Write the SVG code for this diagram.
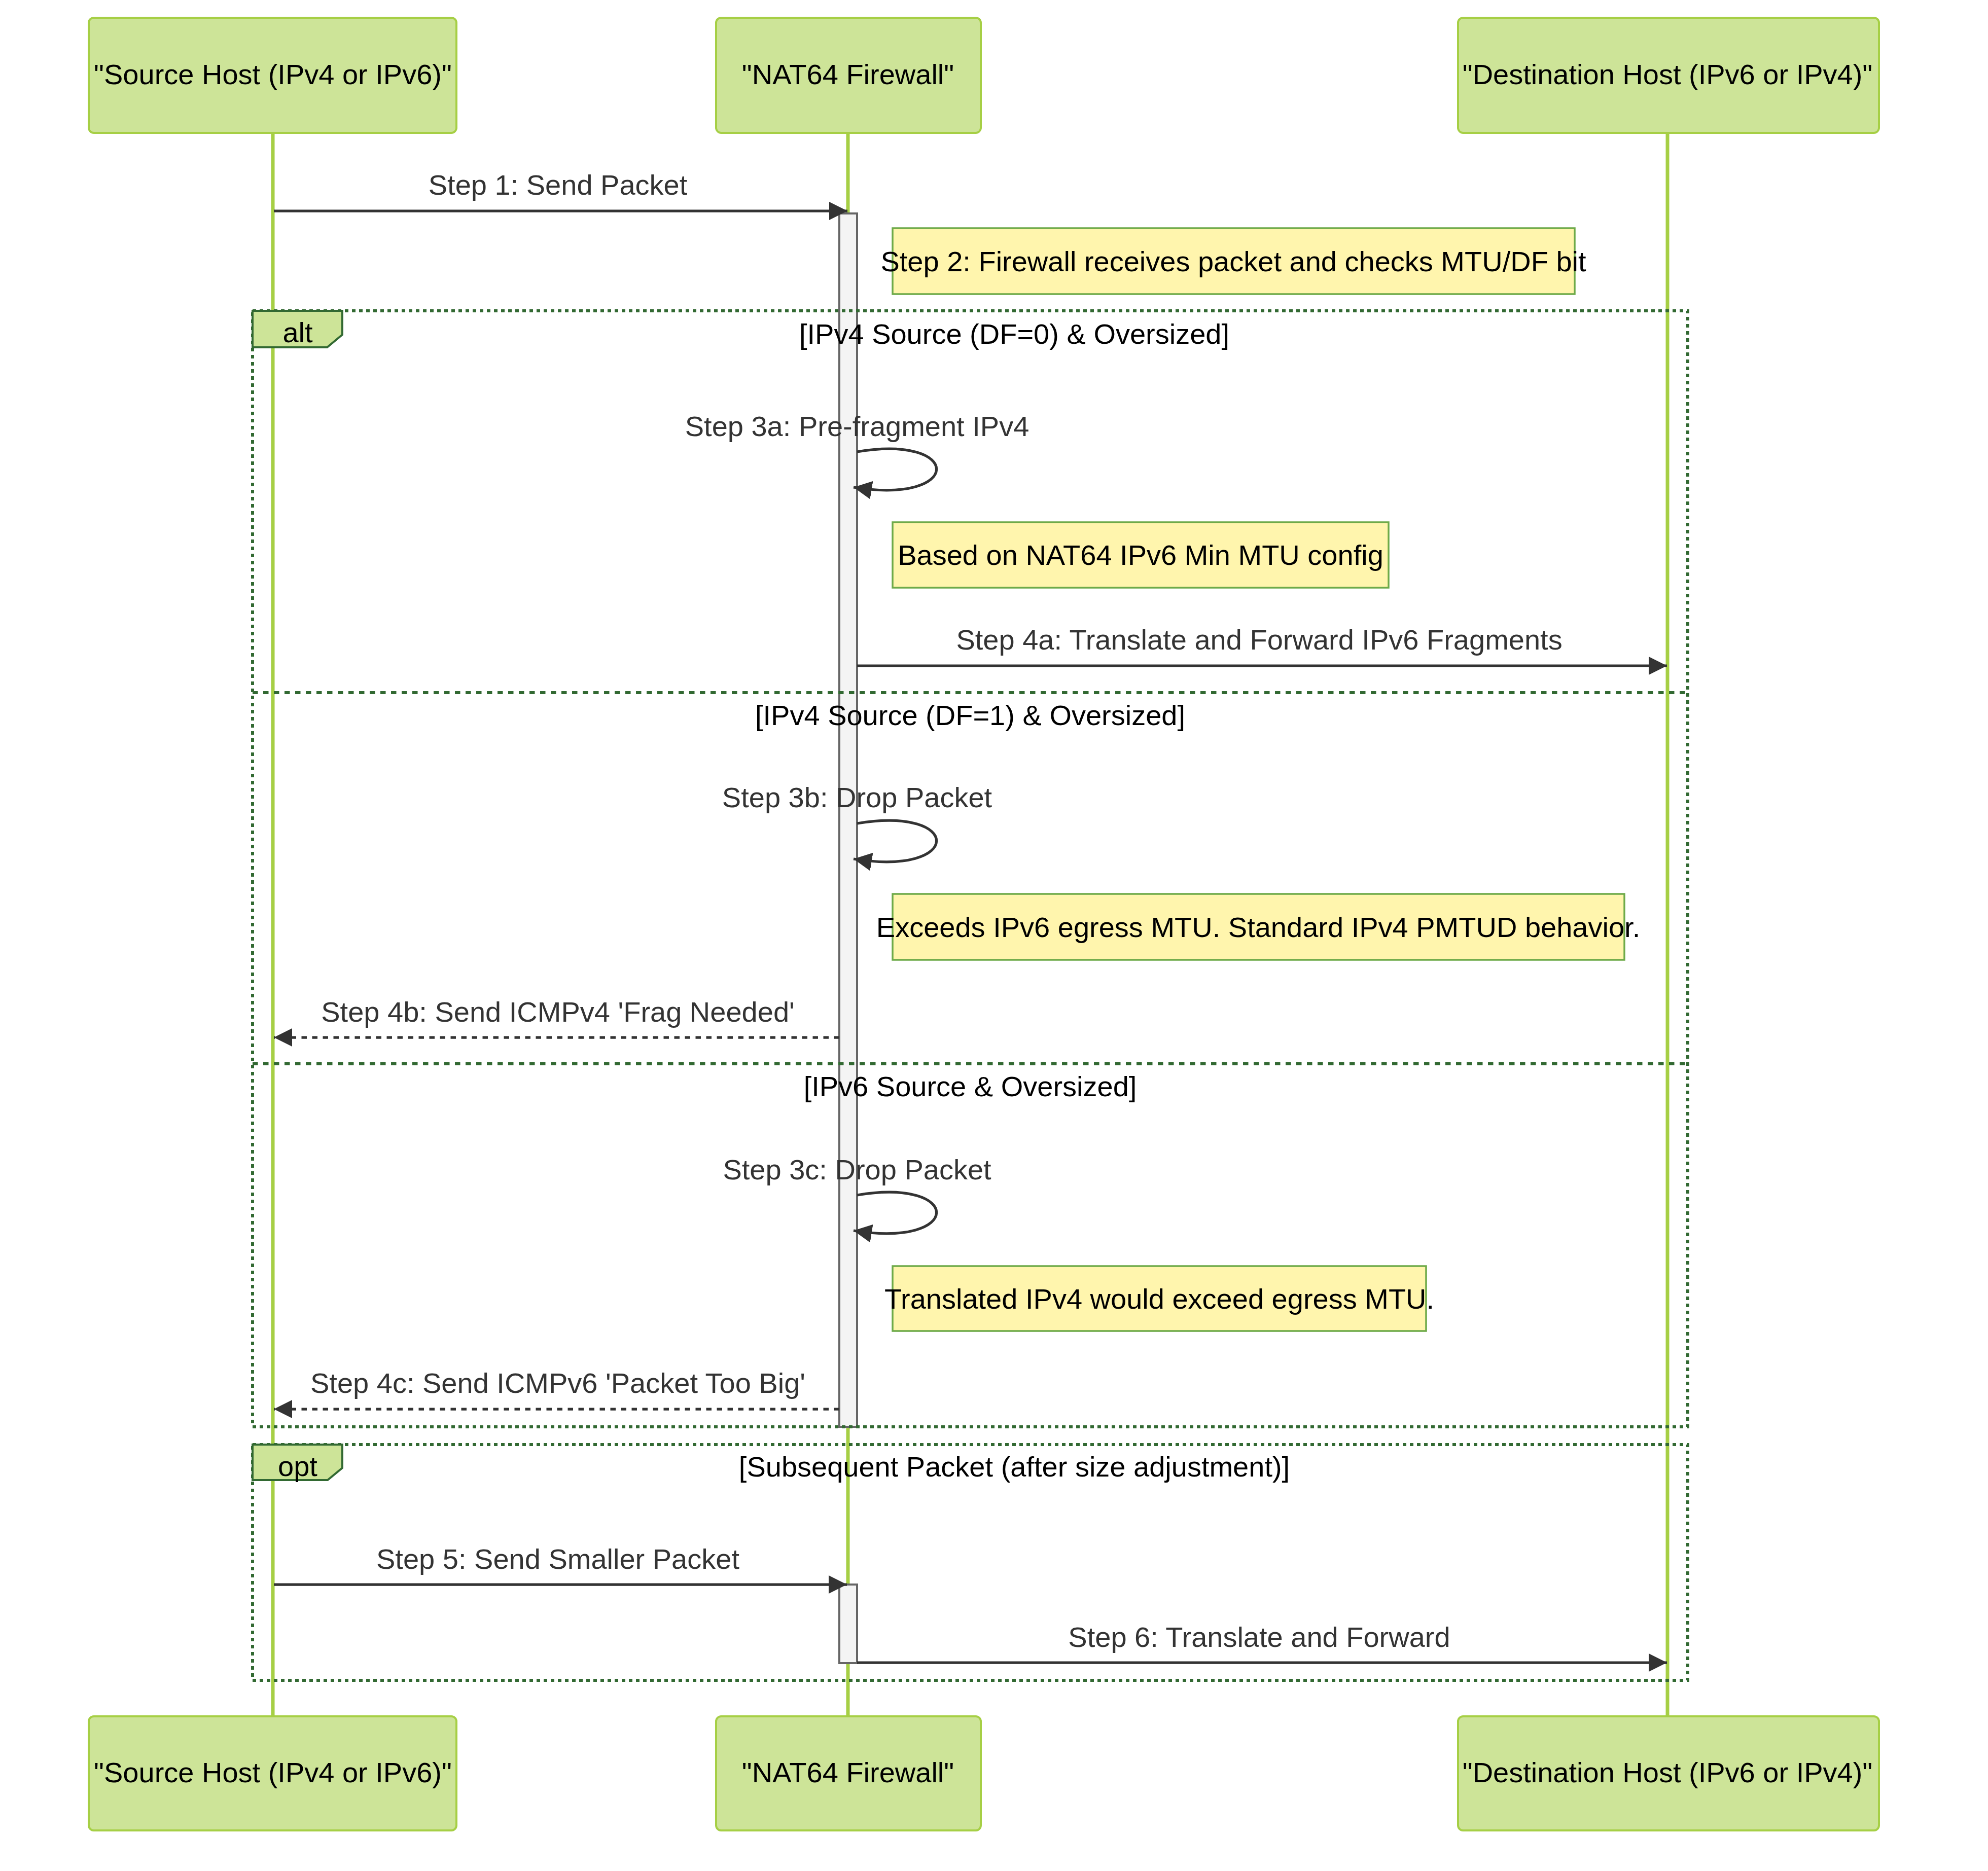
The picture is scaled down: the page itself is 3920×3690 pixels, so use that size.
<svg xmlns="http://www.w3.org/2000/svg" width="3920" height="3690" viewBox="0 0 3920 3690">
<style>
text{font-family:"Liberation Sans",Arial,sans-serif;font-size:56px}
.actor{fill:#cde498;stroke:#a6cf45;stroke-width:4}
.actorText{fill:#000;text-anchor:middle}
.life{stroke:#a6cf45;stroke-width:7;fill:none}
.loop{stroke:#326932;stroke-width:6;stroke-dasharray:7 7;fill:none}
.sep{stroke:#326932;stroke-width:6;stroke-dasharray:10.5 10.5;fill:none}
.lblBox{fill:#cde498;stroke:#326932;stroke-width:4}
.lblText{fill:#000;text-anchor:middle}
.cond{fill:#000;text-anchor:middle}
.act{fill:#f4f4f4;stroke:#666;stroke-width:4}
.note{fill:#fff5ad;stroke:#6eaa49;stroke-width:3.5}
.noteText{fill:#000;text-anchor:middle}
.msg{stroke:#333;stroke-width:5.25;fill:none}
.msgD{stroke:#333;stroke-width:5.25;fill:none;stroke-dasharray:10.5 10.5}
.msgText{fill:#333;text-anchor:middle}
</style>
<defs>
<marker id="arrow" viewBox="0 0 10 10" refX="10" refY="5" markerUnits="userSpaceOnUse" markerWidth="36" markerHeight="36" orient="auto">
<path d="M0,0 L10,5 L0,10 z" fill="#333"/>
</marker>
</defs>
<rect width="3920" height="3690" fill="#fff"/>
<g id="lifelines">
<line class="life" x1="538" y1="262" x2="538" y2="3385"/>
<line class="life" x1="1672" y1="262" x2="1672" y2="3385"/>
<line class="life" x1="3288" y1="262" x2="3288" y2="3385"/>
</g>
<g id="actor-source-top"><rect class="actor" x="175" y="35" width="725" height="227" rx="10"/><text class="actorText" x="538" y="166">"Source Host (IPv4 or IPv6)"</text></g>
<g id="actor-nat-top"><rect class="actor" x="1412" y="35" width="522" height="227" rx="10"/><text class="actorText" x="1672" y="166">"NAT64 Firewall"</text></g>
<g id="actor-dest-top"><rect class="actor" x="2875" y="35" width="830" height="227" rx="10"/><text class="actorText" x="3288" y="166">"Destination Host (IPv6 or IPv4)"</text></g>
<g id="actor-source-bottom"><rect class="actor" x="175" y="3385" width="725" height="225" rx="10"/><text class="actorText" x="538" y="3515">"Source Host (IPv4 or IPv6)"</text></g>
<g id="actor-nat-bottom"><rect class="actor" x="1412" y="3385" width="522" height="225" rx="10"/><text class="actorText" x="1672" y="3515">"NAT64 Firewall"</text></g>
<g id="actor-dest-bottom"><rect class="actor" x="2875" y="3385" width="830" height="225" rx="10"/><text class="actorText" x="3288" y="3515">"Destination Host (IPv6 or IPv4)"</text></g>
<g id="activations">
<rect class="act" x="1655" y="421" width="35" height="2393"/>
<rect class="act" x="1655" y="3125" width="35" height="155"/>
</g>
<g id="frame-alt">
<rect class="loop" x="498" y="613" width="2830" height="2201"/>
<line class="sep" x1="498" y1="1366" x2="3328" y2="1366"/>
<line class="sep" x1="498" y1="2098" x2="3328" y2="2098"/>
<polygon class="lblBox" points="498,613 675,613 675,660 645,685 498,685"/>
<text class="lblText" x="587" y="675">alt</text>
<text class="cond" x="2000" y="678">[IPv4 Source (DF=0) &amp; Oversized]</text>
<text class="cond" x="1913" y="1430">[IPv4 Source (DF=1) &amp; Oversized]</text>
<text class="cond" x="1913" y="2162">[IPv6 Source &amp; Oversized]</text>
</g>
<g id="frame-opt">
<rect class="loop" x="498" y="2849" width="2830" height="465"/>
<polygon class="lblBox" points="498,2849 675,2849 675,2895 646,2919 498,2919"/>
<text class="lblText" x="587" y="2911">opt</text>
<text class="cond" x="2000" y="2912">[Subsequent Packet (after size adjustment)]</text>
</g>
<g id="note-step2"><rect class="note" x="1760" y="450" width="1345" height="130"/><text class="noteText" x="2432" y="535">Step 2: Firewall receives packet and checks MTU/DF bit</text></g>
<g id="note-3a"><rect class="note" x="1760" y="1030" width="978" height="129"/><text class="noteText" x="2249" y="1114">Based on NAT64 IPv6 Min MTU config</text></g>
<g id="note-3b"><rect class="note" x="1760" y="1763" width="1443" height="130"/><text class="noteText" x="2481" y="1848">Exceeds IPv6 egress MTU. Standard IPv4 PMTUD behavior.</text></g>
<g id="note-3c"><rect class="note" x="1760" y="2497" width="1052" height="128"/><text class="noteText" x="2286" y="2581">Translated IPv4 would exceed egress MTU.</text></g>
<g id="connectors">
<line class="msg" x1="540" y1="416" x2="1671" y2="416" marker-end="url(#arrow)"/>
<path class="msg" d="M1690,891 C1900,856 1900,996 1683,961" marker-end="url(#arrow)"/>
<line class="msg" x1="1690" y1="1313" x2="3287" y2="1313" marker-end="url(#arrow)"/>
<path class="msg" d="M1690,1624 C1900,1589 1900,1729 1683,1694" marker-end="url(#arrow)"/>
<line class="msgD" x1="1655" y1="2046" x2="540" y2="2046" marker-end="url(#arrow)"/>
<path class="msg" d="M1690,2357 C1900,2322 1900,2462 1683,2427" marker-end="url(#arrow)"/>
<line class="msgD" x1="1655" y1="2779" x2="540" y2="2779" marker-end="url(#arrow)"/>
<line class="msg" x1="540" y1="3125" x2="1670" y2="3125" marker-end="url(#arrow)"/>
<line class="msg" x1="1690" y1="3279" x2="3287" y2="3279" marker-end="url(#arrow)"/>
</g>
<g id="message-labels">
<text class="msgText" x="1100" y="384">Step 1: Send Packet</text>
<text class="msgText" x="1690" y="860">Step 3a: Pre-fragment IPv4</text>
<text class="msgText" x="2483" y="1281">Step 4a: Translate and Forward IPv6 Fragments</text>
<text class="msgText" x="1690" y="1592">Step 3b: Drop Packet</text>
<text class="msgText" x="1100" y="2015">Step 4b: Send ICMPv4 'Frag Needed'</text>
<text class="msgText" x="1690" y="2326">Step 3c: Drop Packet</text>
<text class="msgText" x="1100" y="2747">Step 4c: Send ICMPv6 'Packet Too Big'</text>
<text class="msgText" x="1100" y="3094">Step 5: Send Smaller Packet</text>
<text class="msgText" x="2483" y="3248">Step 6: Translate and Forward</text>
</g>
</svg>
